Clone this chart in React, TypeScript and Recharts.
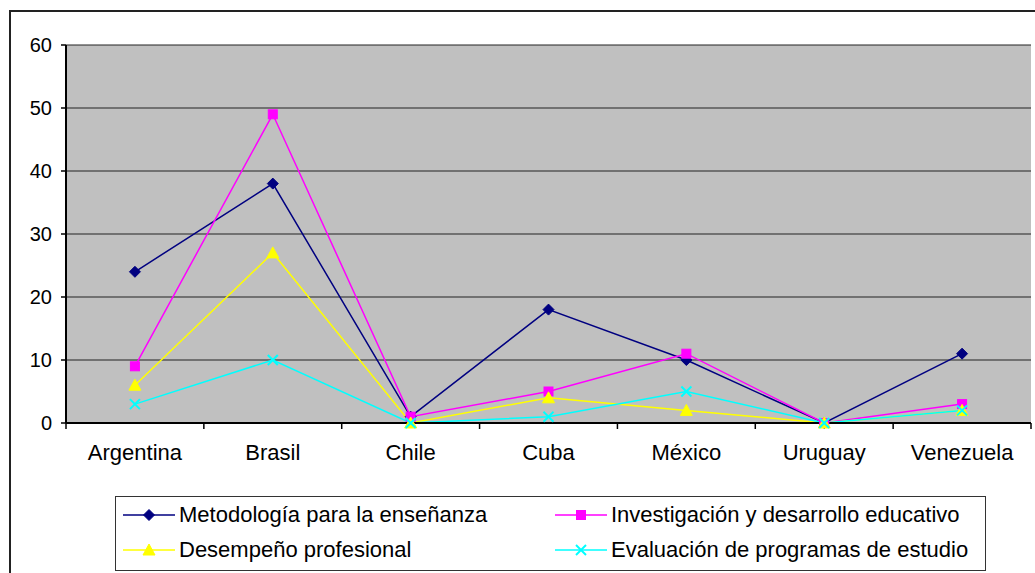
import React from "react";
import { LineChart, Line, XAxis, YAxis, CartesianGrid } from "recharts";

const categories = ["Argentina", "Brasil", "Chile", "Cuba", "México", "Uruguay", "Venezuela"];
const metodologia = [24, 38, 1, 18, 10, 0, 11];
const investigacion = [9, 49, 1, 5, 11, 0, 3];
const desempeno = [6, 27, 0, 4, 2, 0, 2];
const evaluacion = [3, 10, 0, 1, 5, 0, 2];
const yTicks = [0, 10, 20, 30, 40, 50, 60];

const seriesNames = [
  "Metodología para la enseñanza",
  "Investigación y desarrollo educativo",
  "Desempeño profesional",
  "Evaluación de programas de estudio",
];
const seriesColors = ["#000080", "#FF00FF", "#FFFF00", "#00FFFF"];
const seriesKeys = ["m", "i", "d", "e"];
const seriesShapes = ["diamond", "square", "triangle", "cross"];

const data = categories.map((c, k) => ({
  name: c,
  m: metodologia[k],
  i: investigacion[k],
  d: desempeno[k],
  e: evaluacion[k],
}));

const FONT = "'Liberation Sans', Arial, sans-serif";

function Marker({ shape, color, cx, cy }: { shape: string; color: string; cx: number; cy: number }) {
  if (shape === "diamond") {
    const r = 5.5;
    return <polygon points={`${cx},${cy - r} ${cx + r},${cy} ${cx},${cy + r} ${cx - r},${cy}`} fill={color} stroke={color} strokeWidth={1} />;
  }
  if (shape === "square") {
    const r = 4.5;
    return <rect x={cx - r} y={cy - r} width={2 * r} height={2 * r} fill={color} stroke={color} strokeWidth={1} />;
  }
  if (shape === "triangle") {
    return <polygon points={`${cx},${cy - 6} ${cx + 6},${cy + 5} ${cx - 6},${cy + 5}`} fill={color} stroke={color} strokeWidth={1} />;
  }
  const r = 5;
  return (
    <g>
      <line x1={cx - r} y1={cy - r} x2={cx + r} y2={cy + r} stroke={color} strokeWidth={2} />
      <line x1={cx - r} y1={cy + r} x2={cx + r} y2={cy - r} stroke={color} strokeWidth={2} />
    </g>
  );
}

const makeDot = (shape: string, color: string) => (props: any) => {
  const { cx, cy, index } = props;
  if (cx == null || cy == null) return <g key={`n-${index}`} />;
  return (
    <g key={`${shape}-${index}`}>
      <Marker shape={shape} color={color} cx={cx} cy={cy} />
    </g>
  );
};

const XTick = (props: any) => {
  const { x, y, payload, index, visibleTicksCount, width } = props;
  let off = payload && payload.offset;
  if (off == null || isNaN(off) || off === 0) off = width / visibleTicksCount / 2;
  const isLast = index === visibleTicksCount - 1;
  return (
    <g>
      <line x1={x - off} y1={y} x2={x - off} y2={y + 6} stroke="#000" strokeWidth={1.5} />
      {isLast && <line x1={x + off} y1={y} x2={x + off} y2={y + 6} stroke="#000" strokeWidth={1.5} />}
      <text x={x} y={y + 37} textAnchor="middle" fill="#000" fontSize={22} fontFamily={FONT}>
        {payload.value}
      </text>
    </g>
  );
};

function LegendItem({ k }: { k: number }) {
  return (
    <div style={{ display: "flex", alignItems: "center", height: 34 }}>
      <svg width={58} height={20} style={{ display: "block" }}>
        <line x1={2} y1={10} x2={54} y2={10} stroke={seriesColors[k]} strokeWidth={1.5} />
        <Marker shape={seriesShapes[k]} color={seriesColors[k]} cx={28} cy={10} />
      </svg>
      <span style={{ fontSize: 22, fontFamily: FONT, color: "#000", whiteSpace: "nowrap", marginLeft: 0 }}>{seriesNames[k]}</span>
    </div>
  );
}

export default function App() {
  return (
    <div style={{ position: "absolute", left: 0, top: 0, width: 1035, height: 573, background: "#fff", overflow: "hidden", fontFamily: FONT }}>
      <div style={{ position: "absolute", left: 9, top: 10, width: 1040, height: 580, border: "2px solid #222", boxSizing: "border-box" }} />
      <div style={{ position: "absolute", left: 0, top: 0 }}>
        <LineChart width={1035} height={573} data={data} margin={{ top: 45, right: 4, left: 0, bottom: 110 }}>
          <CartesianGrid vertical={false} stroke="#222" strokeWidth={1} fill="#C0C0C0" fillOpacity={1} />
          <XAxis
            dataKey="name"
            scale="band"
            height={40}
            axisLine={{ stroke: "#000", strokeWidth: 2 }}
            tickLine={false}
            tickSize={0}
            tickMargin={0}
            tick={<XTick />}
            interval={0}
          />
          <XAxis
            xAxisId="top"
            dataKey="name"
            scale="band"
            orientation="top"
            height={0}
            tick={false}
            tickLine={false}
            axisLine={{ stroke: "#808080", strokeWidth: 2 }}
          />
          <YAxis
            domain={[0, 60]}
            ticks={yTicks}
            width={66}
            axisLine={{ stroke: "#000", strokeWidth: 2 }}
            tickLine={{ stroke: "#000", strokeWidth: 1.5 }}
            tickSize={5}
            tickMargin={9}
            tick={{ fill: "#000", fontSize: 20, fontFamily: FONT }}
            interval={0}
          />
          <YAxis
            yAxisId="right"
            orientation="right"
            width={0}
            tick={false}
            tickLine={false}
            axisLine={{ stroke: "#808080", strokeWidth: 2 }}
          />
          {seriesKeys.map((key, k) => (
            <Line
              key={key}
              type="linear"
              dataKey={key}
              stroke={seriesColors[k]}
              strokeWidth={1.5}
              dot={makeDot(seriesShapes[k], seriesColors[k])}
              activeDot={false}
              isAnimationActive={false}
            />
          ))}
        </LineChart>
      </div>
      <div
        style={{
          position: "absolute",
          left: 115,
          top: 496,
          width: 871,
          height: 75,
          border: "1.5px solid #333",
          boxSizing: "border-box",
        }}
      >
        <div style={{ position: "absolute", left: 5, top: 1 }}><LegendItem k={0} /></div>
        <div style={{ position: "absolute", left: 437, top: 1 }}><LegendItem k={1} /></div>
        <div style={{ position: "absolute", left: 5, top: 36 }}><LegendItem k={2} /></div>
        <div style={{ position: "absolute", left: 437, top: 36 }}><LegendItem k={3} /></div>
      </div>
    </div>
  );
}
